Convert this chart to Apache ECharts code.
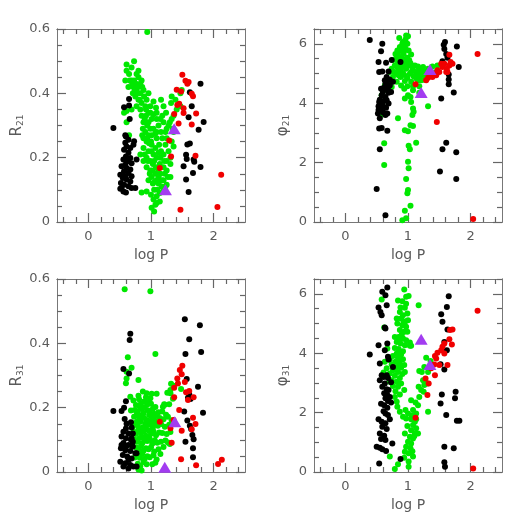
<!DOCTYPE html>
<html>
<head>
<meta charset="utf-8">
<script src="https://cdn.jsdelivr.net/npm/echarts@6/dist/echarts.min.js"></script>
<style>
  html, body { margin: 0; padding: 0; background: #fff; }
  #chart { width: 529px; height: 529px; }
</style>
</head>
<body>
<div id="chart"></div>
<script>
// ---- ticks ----
var xMajor = [0, 1, 2];
var xMinor = [-0.4, -0.2, 0.2, 0.4, 0.6, 0.8, 1.2, 1.4, 1.6, 1.8, 2.2, 2.4];
var rMajor = [0, 0.2, 0.4, 0.6];
var rMinor = [0.05, 0.1, 0.15, 0.25, 0.3, 0.35, 0.45, 0.5, 0.55];
var phiMajor = [0, 2, 4, 6];
var phiMinor = [0.5, 1, 1.5, 2.5, 3, 3.5, 4.5, 5, 5.5, 6.5];

// ---- R21 panel ----
var r21Green = [
  [0.94,0.591],[0.73,0.50],[0.61,0.49],[0.61,0.47],[0.65,0.46],[0.80,0.47],[0.73,0.44],[0.80,0.45],[0.85,0.44],
  [0.69,0.44],[0.76,0.43],[0.83,0.43],[0.72,0.42],[0.64,0.42],[0.59,0.44],[0.88,0.41],[0.77,0.41],[0.71,0.40],
  [0.83,0.40],[0.89,0.39],[0.75,0.39],[0.80,0.38],[0.85,0.37],[0.93,0.38],[0.91,0.36],[0.77,0.36],[0.69,0.35],
  [0.83,0.35],[0.96,0.34],[0.85,0.33],[0.92,0.33],[0.99,0.34],[1.01,0.32],[0.88,0.31],[0.94,0.30],[0.87,0.29],
  [0.99,0.29],[1.04,0.29],[0.91,0.28],[0.96,0.27],[1.01,0.27],[0.88,0.26],[1.09,0.26],[0.93,0.25],[1.01,0.24],
  [1.07,0.23],[0.88,0.23],[0.96,0.22],[0.83,0.21],[1.04,0.21],[0.93,0.20],[1.09,0.20],[0.99,0.19],[1.15,0.20],
  [0.88,0.19],[1.03,0.18],[0.93,0.17],[1.08,0.17],[1.14,0.18],[0.99,0.16],[1.07,0.15],[1.15,0.15],[1.01,0.14],
  [1.09,0.13],[1.20,0.13],[1.03,0.12],[1.12,0.12],[1.17,0.11],[1.05,0.10],[1.14,0.09],[1.00,0.085],[1.09,0.08],
  [1.04,0.07],[1.14,0.064],[1.07,0.054],[1.01,0.044],[1.05,0.033],[1.09,0.059],[0.93,0.095],[0.85,0.092],
  [1.19,0.095],[1.23,0.11],[1.25,0.116],[1.31,0.14],[1.25,0.16],[1.20,0.17],[1.25,0.19],[1.31,0.20],[1.20,0.21],
  [1.28,0.22],[1.23,0.24],[1.33,0.25],[1.18,0.26],[1.25,0.26],[1.36,0.28],[1.25,0.29],[1.20,0.31],[1.30,0.31],
  [1.33,0.32],[1.24,0.34],[1.36,0.33],[1.41,0.35],[1.32,0.37],[1.39,0.38],[1.33,0.39],[1.47,0.40],[1.49,0.41],
  [1.36,0.235],[1.28,0.30],[1.18,0.33],[1.01,0.22],[1.07,0.275],[1.12,0.30],[1.15,0.32],[1.09,0.34],[0.99,0.36],
  [1.04,0.375],[1.08,0.355],[1.20,0.36],[1.16,0.38],[1.09,0.32],[0.61,0.345],[0.57,0.34],[0.69,0.48],[0.77,0.46],
  [0.96,0.40],[1.04,0.335],[1.09,0.28],[1.16,0.22],[1.21,0.19],[1.12,0.215],[1.31,0.18],[1.35,0.29],[1.47,0.36],
  [0.61,0.31],[0.65,0.27],[0.90,0.32],[0.86,0.27],[0.94,0.26],[0.97,0.245],[0.90,0.21],[0.95,0.19],[0.98,0.15],
  [1.02,0.16],[0.96,0.13],[1.06,0.125],[1.12,0.14],[1.10,0.10],[0.82,0.38],[0.78,0.40],[0.74,0.41],[0.70,0.43],
  [0.79,0.42],[0.86,0.42],[0.66,0.44],[0.92,0.35],[0.96,0.31],[1.00,0.25],[1.05,0.19],[1.11,0.165],[1.17,0.13],
  [1.22,0.15],[1.27,0.14],[1.13,0.24],[1.16,0.28],[1.23,0.28]
];
var r21Black = [
  [0.40,0.292],[0.57,0.357],[0.65,0.382],[0.65,0.362],[0.66,0.32],[0.59,0.27],
  [0.60,0.266],[0.64,0.256],[0.59,0.246],[0.61,0.235],[0.57,0.225],[0.67,0.23],[0.73,0.251],[0.72,0.24],
  [0.64,0.215],[0.60,0.204],[0.67,0.199],[0.56,0.194],[0.63,0.189],[0.69,0.183],[0.59,0.178],[0.53,0.173],
  [0.61,0.168],[0.67,0.163],[0.57,0.158],[0.64,0.152],[0.51,0.147],[0.59,0.142],[0.69,0.142],[0.55,0.137],
  [0.61,0.132],[0.67,0.126],[0.52,0.121],[0.57,0.116],[0.64,0.111],[0.69,0.106],[0.53,0.106],[0.56,0.095],
  [0.60,0.092],[0.51,0.103],[0.77,0.194],[0.75,0.106],
  [1.79,0.43],[1.62,0.403],[1.65,0.36],[1.60,0.326],[1.84,0.311],[1.76,0.287],[1.62,0.244],[1.58,0.241],
  [1.56,0.209],[1.57,0.196],[1.68,0.194],[1.69,0.187],[1.52,0.173],[1.79,0.171],[1.67,0.152],[1.56,0.132],[1.60,0.093]
];
var r21Red = [
  [1.50,0.458],[1.55,0.439],[1.60,0.435],[1.58,0.43],[1.65,0.399],[1.67,0.391],[1.41,0.411],[1.48,0.406],
  [1.42,0.364],[1.45,0.368],[1.37,0.336],[1.52,0.354],[1.52,0.339],[1.72,0.337],[1.44,0.306],[1.65,0.303],
  [1.29,0.253],[1.32,0.204],[1.14,0.168],[1.71,0.206],[2.12,0.147],[1.47,0.038],[2.06,0.047]
];
var r21Tri = [[1.37,0.29],[1.23,0.10]];

// ---- phi21 panel ----
var phi21Green = [
  [0.97,6.28],[1.00,6.26],[0.92,6.06],[0.99,6.00],[0.86,6.20],[0.95,5.89],[0.89,5.78],[1.01,5.78],[0.84,5.66],
  [0.93,5.66],[1.05,5.64],[0.82,5.55],[0.91,5.50],[0.99,5.53],[0.76,5.46],[0.84,5.39],[0.95,5.39],[1.04,5.35],
  [0.79,5.27],[0.89,5.27],[1.11,5.27],[0.74,5.16],[0.85,5.14],[0.97,5.16],[1.08,5.11],[1.18,5.16],[0.71,5.05],
  [0.82,4.99],[0.92,5.02],[1.03,4.99],[1.13,5.05],[1.25,5.08],[1.32,5.16],[0.76,4.88],[0.88,4.88],[0.99,4.85],
  [1.09,4.91],[1.20,4.94],[1.29,4.99],[1.37,5.05],[0.82,4.72],[0.95,4.75],[1.05,4.72],[1.16,4.77],[1.26,4.79],
  [0.89,4.60],[1.08,4.57],[1.18,4.57],[0.74,4.55],[0.69,4.77],[0.63,4.60],[0.61,4.44],[0.58,4.27],[0.64,4.10],
  [0.57,3.60],[0.62,2.65],[0.62,1.92],[0.84,3.49],[0.95,4.16],[1.00,4.27],[1.04,4.21],[1.05,4.04],[1.08,3.82],
  [1.09,3.71],[1.07,3.60],[1.04,3.26],[1.08,3.23],[0.95,3.09],[1.00,3.06],[1.13,2.67],[1.01,2.57],[1.03,2.45],
  [1.00,2.03],[1.01,1.81],[0.97,1.45],[1.00,1.08],[0.99,0.97],[1.04,0.55],[0.95,0.38],[0.97,0.13],[0.91,0.06],
  [1.32,3.90],[1.18,4.35],[1.08,4.44],
  [0.87,5.89],[0.91,6.00],[0.96,6.15],[0.83,5.78],[0.80,5.66],[0.87,5.55],[0.92,5.22],[0.83,5.22],[1.01,5.27],
  [1.13,4.84],[1.21,4.77],[1.32,4.91],[1.39,4.99],[1.45,5.05],[0.78,5.05],[0.85,4.94],[0.99,4.57],[0.94,4.49],
  [1.05,5.05],[1.21,5.05],[1.16,5.24],[1.24,5.22],[1.39,5.24],[1.47,5.27],[0.93,5.95],[0.97,5.80],[1.02,5.45],
  [0.90,5.40],[0.96,5.30],[1.07,5.20],[0.88,5.10],[0.94,4.95],[1.15,4.95],[1.28,4.88]
];
var phi21Black = [
  [0.39,6.13],[0.59,6.00],[0.57,5.75],[0.53,5.39],[0.65,5.36],[0.88,5.39],[0.74,5.46],[0.54,5.05],[0.59,5.07],[0.69,5.07],
  [0.66,4.88],[0.68,4.77],[0.64,4.66],[0.71,4.60],[0.62,4.53],[0.67,4.46],[0.60,4.38],[0.69,4.35],[0.58,4.27],
  [0.64,4.21],[0.55,4.12],[0.62,4.08],[0.59,3.99],[0.53,3.90],[0.65,3.85],[0.57,3.77],[0.52,3.65],[0.61,3.68],
  [0.55,3.49],[0.67,3.65],[0.71,4.79],[0.63,4.77],[0.76,4.72],[0.68,4.53],[0.57,4.49],[0.73,4.38],[0.54,4.04],
  [0.66,4.10],[0.69,3.99],[0.53,3.77],[0.61,3.88],[0.64,3.60],
  [0.54,3.15],[0.58,3.17],[0.67,3.07],[0.55,2.45],[0.50,1.11],[0.64,0.23],
  [1.59,6.06],[1.57,5.97],[1.58,5.83],[1.61,5.66],[1.63,5.53],[1.78,5.91],[1.55,5.41],[1.81,5.22],[1.65,4.97],
  [1.65,4.80],[1.65,4.64],[1.73,4.36],[1.53,4.16],[1.61,2.67],[1.55,2.45],[1.77,2.35],[1.51,1.70],[1.77,1.45]
];
var phi21Red = [
  [1.66,5.63],[2.11,5.66],[1.68,5.39],[1.71,5.33],[1.66,5.27],[1.62,5.16],[1.53,5.33],[1.55,5.22],[1.47,5.11],
  [1.50,5.05],[1.42,4.99],[1.37,4.94],[1.32,4.86],[1.39,4.88],[1.45,4.94],[1.29,4.77],[1.61,5.05],[1.63,5.05],
  [1.12,4.64],[1.46,3.37],[2.04,0.10],[1.58,5.33]
];
var phi21Tri = [[1.35,5.14],[1.21,4.36]];

// ---- R31 panel ----
var r31Green = [
  [0.58,0.568],[0.99,0.562],[0.63,0.357],[1.07,0.367],[0.69,0.324],[0.61,0.312],[0.61,0.291],[0.60,0.276],[0.80,0.286],
  [0.67,0.234],[0.80,0.237],[0.87,0.25],[0.93,0.245],[1.01,0.243],[1.09,0.243],[1.31,0.245],[1.32,0.274],[1.36,0.268],
  [1.31,0.255],[1.48,0.258],[1.36,0.231],[1.21,0.211],[1.19,0.203],
  [0.72,0.222],[0.76,0.208],[0.81,0.226],[0.84,0.213],[0.89,0.219],[0.92,0.232],[0.96,0.218],[1.00,0.212],
  [0.74,0.193],[0.79,0.188],[0.82,0.203],[0.86,0.196],[0.90,0.201],[0.95,0.192],[0.98,0.188],[1.03,0.197],
  [1.07,0.202],[1.12,0.186],[1.18,0.188],[1.24,0.178],[0.73,0.172],[0.77,0.177],[0.81,0.163],[0.85,0.174],
  [0.89,0.168],[0.93,0.162],[0.97,0.177],[1.01,0.171],[1.05,0.163],[1.09,0.176],[1.14,0.168],[1.20,0.164],
  [1.27,0.172],[1.33,0.161],[0.75,0.152],[0.79,0.143],[0.83,0.156],[0.87,0.139],[0.91,0.151],[0.95,0.147],
  [0.99,0.157],[1.03,0.138],[1.07,0.152],[1.11,0.144],[1.16,0.149],[1.22,0.141],[1.29,0.147],[0.72,0.126],
  [0.76,0.118],[0.80,0.131],[0.84,0.121],[0.88,0.127],[0.92,0.113],[0.96,0.129],[1.00,0.119],[1.04,0.126],
  [1.08,0.114],[1.13,0.123],[1.18,0.121],[1.25,0.118],[1.31,0.124],[0.74,0.101],[0.78,0.094],[0.82,0.106],
  [0.86,0.089],[0.90,0.098],[0.94,0.096],[0.98,0.102],[1.02,0.088],[1.06,0.099],[1.10,0.091],[1.16,0.094],
  [1.23,0.098],[1.30,0.087],[0.76,0.076],[0.80,0.069],[0.84,0.081],[0.88,0.066],[0.92,0.074],[0.96,0.071],
  [1.00,0.077],[1.05,0.064],[1.12,0.071],[1.20,0.078],[0.78,0.052],[0.82,0.044],[0.86,0.056],[0.90,0.041],
  [0.94,0.049],[0.98,0.046],[1.04,0.052],[1.09,0.039],[1.15,0.056],[0.79,0.026],[0.83,0.019],[0.88,0.031],
  [0.93,0.024],[1.02,0.024],[1.07,0.029],[0.80,0.008],[0.85,0.005],[0.74,0.045],[0.70,0.081],[0.70,0.139],
  [0.68,0.191],[1.22,0.209],[1.27,0.092],[1.29,0.211],[1.26,0.246],[1.35,0.228],[0.88,0.183],[0.92,0.135],
  [0.97,0.108],[0.86,0.108],[1.01,0.145],[1.05,0.181],[0.83,0.176],[0.78,0.157],[0.94,0.21],[0.99,0.229]
];
var r31Black = [
  [0.40,0.19],[0.56,0.32],[0.65,0.306],[0.67,0.43],[0.66,0.41],[0.60,0.22],[0.57,0.20],[0.53,0.19],[0.58,0.165],
  [0.61,0.15],[0.68,0.155],[0.60,0.135],[0.69,0.138],[0.56,0.125],[0.64,0.12],[0.71,0.12],[0.53,0.11],[0.60,0.105],
  [0.68,0.10],[0.56,0.09],[0.64,0.084],[0.71,0.079],[0.52,0.074],[0.59,0.068],[0.67,0.065],[0.75,0.058],[0.55,0.053],
  [0.62,0.048],[0.69,0.042],[0.51,0.032],[0.59,0.027],[0.67,0.022],[0.56,0.017],[0.64,0.011],[0.72,0.017],[0.77,0.058],
  [0.77,0.017],[0.71,0.094],[0.60,0.079],[0.53,0.084],[0.64,0.037],[0.69,0.105],
  [1.54,0.475],[1.78,0.456],[1.61,0.413],[1.55,0.367],[1.80,0.373],[1.57,0.289],[1.75,0.265],[1.61,0.242],
  [1.63,0.227],[1.59,0.231],[1.53,0.188],[1.83,0.184],[1.58,0.16],[1.62,0.144],[1.64,0.134],[1.66,0.115],
  [1.68,0.102],[1.55,0.094],[1.67,0.074],[1.67,0.046]
];
var r31Red = [
  [1.50,0.33],[1.46,0.317],[1.49,0.304],[1.42,0.291],[1.43,0.275],[1.37,0.262],[1.54,0.28],[1.56,0.248],[1.61,0.252],
  [1.59,0.224],[1.68,0.232],[1.37,0.232],[1.45,0.193],[1.14,0.156],[1.31,0.136],[1.49,0.128],[1.67,0.169],
  [1.71,0.149],[1.65,0.133],[1.33,0.091],[1.48,0.04],[1.72,0.021],[2.07,0.025],[2.13,0.038],[1.36,0.162]
];
var r31Tri = [[1.38,0.156],[1.22,0.015]];

// ---- phi31 panel ----
var phi31Green = [
  [0.94,6.15],[1.01,5.93],[1.17,5.62],[0.58,5.81],[0.88,5.54],[0.95,5.53],[0.97,5.67],[0.87,5.39],[0.92,5.28],
  [0.99,5.34],[0.89,5.17],[0.96,5.08],[0.91,4.94],[0.97,4.89],[0.87,4.78],[0.94,4.72],[0.62,4.87],[0.85,4.55],
  [0.92,4.50],[0.82,4.38],[0.88,4.33],[0.95,4.27],[1.03,4.25],[0.79,4.18],[0.85,4.14],[0.92,4.07],[0.82,3.99],
  [0.89,3.96],[0.76,3.91],[0.84,3.85],[0.92,3.80],[0.80,3.71],[0.87,3.65],[0.74,3.62],[0.82,3.54],[0.89,3.51],
  [0.76,3.43],[0.84,3.37],[0.71,3.32],[0.79,3.24],[0.87,3.17],[0.74,3.09],[0.82,3.04],[0.76,2.90],[0.84,2.87],
  [0.80,2.72],[0.79,2.53],[0.82,2.37],[0.83,2.20],[0.87,2.03],[0.92,1.86],[0.97,1.80],[1.05,1.78],[1.00,1.97],
  [1.08,2.09],[1.16,2.25],[1.12,2.34],[1.05,2.42],[0.96,2.09],[1.13,1.97],[1.18,2.53],[1.21,2.76],[1.25,2.70],
  [1.17,2.87],[1.24,3.09],[1.18,3.40],[1.22,3.37],[1.26,3.54],[1.29,3.85],[1.36,3.74],[1.32,3.37],[1.31,2.98],
  [1.26,2.93],[1.32,2.03],[1.03,4.36],[0.97,5.90],
  [1.11,1.69],[1.08,1.58],[1.13,1.47],[1.05,1.41],[1.11,1.30],[1.03,1.19],[1.08,1.13],[1.00,1.02],[1.05,0.96],
  [0.97,0.85],[1.04,0.80],[0.95,0.68],[1.01,0.63],[1.08,0.52],[0.94,0.48],[1.01,0.35],[1.01,0.18],[0.84,0.26],
  [0.79,0.10],[0.71,0.52],[1.13,1.78],[1.16,1.30],[0.95,1.30],
  [0.61,3.35],[0.63,3.71],[0.66,3.49],[0.67,4.16],
  [0.84,5.78],[0.91,5.75],[0.82,5.17],[1.00,5.11],[0.83,5.00],[0.99,4.72],[0.79,4.55],[0.97,4.44],[1.05,4.25],
  [0.71,3.77],[0.94,3.60],[0.95,3.37],[0.71,3.04],[0.89,2.98],[0.94,2.76],[0.87,2.61],[0.90,4.05],[0.86,3.75],
  [0.91,3.30],[0.78,3.45],[0.86,4.45],[0.90,4.62],[0.93,5.05],[1.06,1.90],[1.10,1.20],[1.07,0.70],[0.99,1.55]
];
var phi31Black = [
  [0.67,6.21],[0.59,6.07],[0.64,5.95],[0.53,5.54],[0.56,5.39],[0.58,5.28],[0.66,5.62],[0.63,4.87],[0.64,4.83],
  [0.67,4.33],[0.53,4.27],[0.39,3.96],[0.55,3.65],[0.63,4.10],[0.68,3.88],[0.69,3.79],[0.76,3.54],[0.58,3.26],
  [0.66,3.26],[0.55,3.09],[0.68,3.17],[0.73,3.02],[0.63,2.98],[0.59,2.87],[0.66,2.79],[0.69,2.76],[0.62,2.65],
  [0.67,2.59],[0.71,2.53],[0.64,2.48],[0.68,2.39],[0.73,2.34],[0.62,2.25],[0.67,2.16],[0.61,2.05],[0.64,1.97],
  [0.68,1.92],[0.53,1.78],[0.71,1.78],[0.58,1.69],[0.64,1.64],[0.59,1.52],[0.66,1.45],[0.55,1.30],[0.62,1.22],
  [0.57,1.11],[0.64,1.08],[0.50,0.85],[0.55,0.82],[0.59,0.77],[0.65,0.71],[0.75,0.96],[0.54,0.29],[0.88,0.44],
  [0.61,3.20],[0.57,2.30],
  [1.65,5.92],[1.62,5.56],[1.53,5.31],[1.55,5.06],[1.63,4.80],[1.58,4.38],[1.62,4.10],[1.52,3.63],[1.58,3.45],
  [1.54,2.61],[1.76,2.70],[1.52,2.31],[1.75,2.48],[1.61,1.92],[1.78,1.73],[1.82,1.73],[1.58,0.85],[1.73,0.80],
  [1.58,0.33],[1.59,0.18]
];
var phi31Red = [
  [2.11,5.43],[1.71,4.80],[1.67,4.78],[1.66,4.47],[1.70,4.29],[1.58,4.33],[1.55,4.22],[1.53,4.10],[1.47,4.02],
  [1.43,3.91],[1.45,3.82],[1.42,3.62],[1.63,3.60],[1.37,3.49],[1.43,3.26],[1.28,3.15],[1.33,2.98],[1.31,2.59],
  [1.12,1.83],[2.04,0.12],[1.50,3.60],[1.58,3.99]
];
var phi31Tri = [[1.21,4.47],[1.35,3.62]];

// ---- style ----
var frameColor = "#777";
var tickColor = "#666";
var textColor = "#5a5a5a";
var fontFamily = "DejaVu Sans";
var green = "#00e800";
var red = "#f00000";
var purple = "#a23cf0";

var chart = echarts.init(document.getElementById("chart"));

var grids = [
  { left: 57, top: 29, width: 188, height: 193 },
  { left: 314, top: 29, width: 188, height: 193 },
  { left: 57, top: 279, width: 188, height: 193 },
  { left: 314, top: 279, width: 188, height: 193 },
];

// one axis = one set of ticks (major or minor) on one side of a panel
function tickAxis(g, pos, min, max, values, len, labels, extra) {
  var a = {
    type: "value",
    gridIndex: g,
    position: pos,
    min: min,
    max: max,
    axisLine: { show: true, onZero: false, lineStyle: { color: frameColor, width: 1 } },
    axisTick: { show: true, inside: true, length: len, customValues: values, lineStyle: { color: tickColor, width: 1.2 } },
    axisLabel: {
      show: labels,
      customValues: values,
      color: textColor,
      fontSize: 13,
      fontFamily: fontFamily,
      margin: pos == "bottom" ? 8 : 7,
    },
    splitLine: { show: false },
  };
  return Object.assign(a, extra || {});
}

function axisName(name, gap) {
  return {
    name: name,
    nameLocation: "middle",
    nameGap: gap,
    nameTextStyle: {
      color: textColor,
      fontFamily: fontFamily,
      fontSize: 14,
      rich: {
        m: { fontSize: 15, fontFamily: fontFamily, color: textColor },
        s: { fontSize: 9, fontFamily: fontFamily, color: textColor, padding: [7, 0, 0, 0] },
      },
    },
  };
}

var xAxes = [];
var yAxes = [];
var panels = [
  { yMax: 0.6, major: rMajor, minor: rMinor, name: "{m|R}{s|21}", gap: 30 },
  { yMax: 6.5, major: phiMajor, minor: phiMinor, name: "{m|φ}{s|21}", gap: 23 },
  { yMax: 0.6, major: rMajor, minor: rMinor, name: "{m|R}{s|31}", gap: 30 },
  { yMax: 6.5, major: phiMajor, minor: phiMinor, name: "{m|φ}{s|31}", gap: 23 },
];

panels.forEach(function (p, g) {
  // x: bottom major (labels), bottom minor, top major, top minor
  xAxes.push(tickAxis(g, "bottom", -0.5, 2.5, xMajor, 9, true, axisName("log P", 26)));
  xAxes.push(tickAxis(g, "bottom", -0.5, 2.5, xMinor, 5, false));
  xAxes.push(tickAxis(g, "top", -0.5, 2.5, xMajor, 9, false));
  xAxes.push(tickAxis(g, "top", -0.5, 2.5, xMinor, 5, false));
  // y: left major (labels), left minor, right major, right minor
  var yMain = tickAxis(g, "left", 0, p.yMax, p.major, 9, true, axisName(p.name, p.gap));
  yMain.axisLabel.formatter = function (v) { return String(v); };
  yAxes.push(yMain);
  yAxes.push(tickAxis(g, "left", 0, p.yMax, p.minor, 5, false));
  yAxes.push(tickAxis(g, "right", 0, p.yMax, p.major, 9, false));
  yAxes.push(tickAxis(g, "right", 0, p.yMax, p.minor, 5, false));
});

function dots(g, data, color) {
  return {
    type: "scatter",
    xAxisIndex: g * 4,
    yAxisIndex: g * 4,
    data: data,
    symbol: "circle",
    symbolSize: 6,
    itemStyle: { color: color, opacity: 1 },
    silent: true,
  };
}
function tris(g, data) {
  return {
    type: "scatter",
    xAxisIndex: g * 4,
    yAxisIndex: g * 4,
    data: data,
    symbol: "triangle",
    symbolSize: [13, 11],
    itemStyle: { color: purple, opacity: 1 },
    silent: true,
  };
}

var series = [
  dots(0, r21Green, green), dots(0, r21Black, "#000"), dots(0, r21Red, red), tris(0, r21Tri),
  dots(1, phi21Green, green), dots(1, phi21Black, "#000"), dots(1, phi21Red, red), tris(1, phi21Tri),
  dots(2, r31Green, green), dots(2, r31Black, "#000"), dots(2, r31Red, red), tris(2, r31Tri),
  dots(3, phi31Green, green), dots(3, phi31Black, "#000"), dots(3, phi31Red, red), tris(3, phi31Tri),
];

chart.setOption({
  animation: false,
  backgroundColor: "#fff",
  grid: grids,
  xAxis: xAxes,
  yAxis: yAxes,
  series: series,
});
</script>
</body>
</html>
